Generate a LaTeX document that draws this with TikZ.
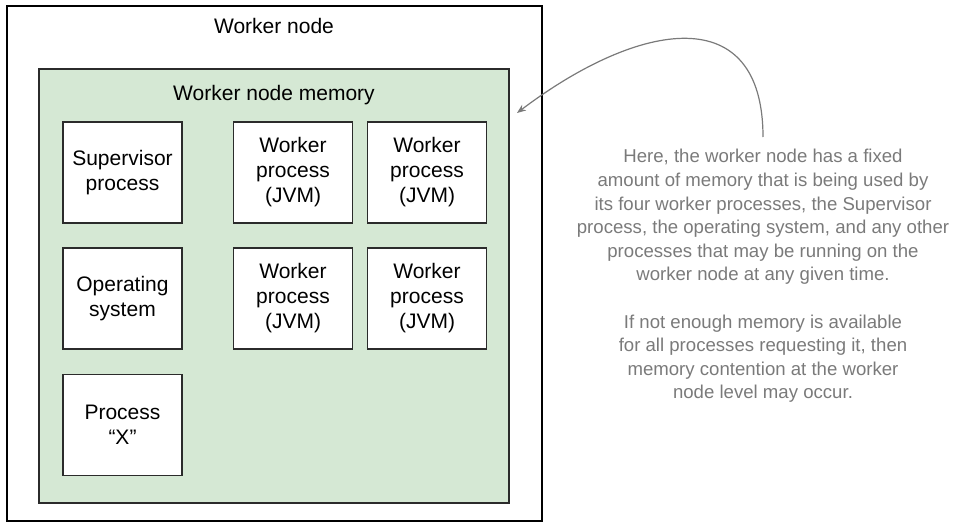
\documentclass[tikz,border=0pt]{standalone}
\usepackage{fontspec}
\setmainfont{Liberation Sans}
\usetikzlibrary{arrows.meta}
\definecolor{memgreen}{HTML}{D5E8D4}
\definecolor{notegray}{HTML}{7A7A7A}
\definecolor{edgegray}{HTML}{2B2B2B}
\tikzset{
  procbox/.style={draw=edgegray, line width=1.3pt, fill=white, minimum width=119pt, minimum height=101pt, inner sep=0pt, align=center, font=\fontsize{21}{25}\selectfont},
  titletext/.style={anchor=base, inner sep=0pt, font=\fontsize{21}{25}\selectfont},
  notetext/.style={align=center, text=notegray, inner sep=0pt, font=\fontsize{18.6}{23.6}\selectfont},
  notearrow/.style={draw=notegray, line width=1.2pt, -{Stealth[length=9pt,width=7pt]}}
}
\begin{document}
\begin{tikzpicture}[x=1pt,y=-1pt]
\useasboundingbox (0,0) rectangle (954,527);
\node[draw=black, line width=1.3pt, minimum width=535pt, minimum height=515pt, inner sep=0pt] (outer) at (274.5,263.5) {};
\node[draw=edgegray, line width=1.3pt, fill=memgreen, minimum width=470pt, minimum height=434pt, inner sep=0pt] (mem) at (274,286) {};
\node[titletext] (outertitle) at (274,34) {Worker node};
\node[titletext] (memtitle) at (274,100) {Worker node memory};
\node[procbox] (sup) at (122.5,172.5) {Supervisor\\process};
\node[procbox] (w1) at (293,172.5) {Worker\\process\\(JVM)};
\node[procbox] (w2) at (427,172.5) {Worker\\process\\(JVM)};
\node[procbox] (os) at (122.5,298.5) {Operating\\system};
\node[procbox] (w3) at (293,298.5) {Worker\\process\\(JVM)};
\node[procbox] (w4) at (427,298.5) {Worker\\process\\(JVM)};
\node[procbox] (px) at (122.5,425) {Process\\“X”};
\node[notetext] (note) at (763,276) {Here, the worker node has a fixed\\amount of memory that is being used by\\its four worker processes, the Supervisor\\process, the operating system, and any other\\processes that may be running on the\\worker node at any given time.\\[23.6pt]If not enough memory is available\\for all processes requesting it, then\\memory contention at the worker\\node level may occur.};
\coordinate (arrowstart) at (763,137);
\coordinate (arrowend) at (517,113);
\draw[notearrow] (arrowstart) .. controls (763,0) and (640,20) .. (arrowend);
\end{tikzpicture}
\end{document}
